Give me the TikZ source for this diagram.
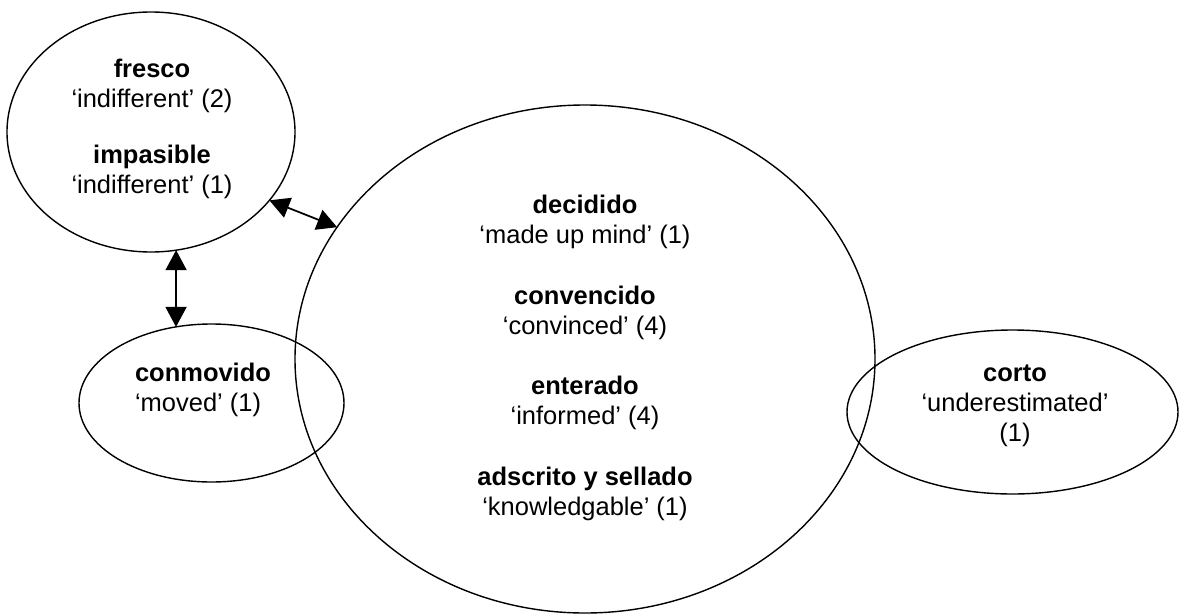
\documentclass[tikz,border=0pt]{standalone}
\usepackage{fontspec}
\setmainfont{Liberation Sans}
\usepackage{tikz}
\usetikzlibrary{arrows.meta,shapes.geometric}

\begin{document}
\begin{tikzpicture}[
  x=0.2mm, y=-0.2mm,
  every node/.style={inner sep=0pt, outer sep=0pt},
  ring/.style={draw, ellipse, line width=0.8pt},
  gloss/.style={font=\fontsize{14.5}{17}\selectfont, align=center},
  dbl/.style={{Triangle[length=4mm,width=4.2mm]}-{Triangle[length=4mm,width=4.2mm]},
              line width=1pt}]

\useasboundingbox (0,0) rectangle (1179,614);

% the four groups of adjectives
\node[ring, minimum width=5.76cm, minimum height=4.8cm]  (fresco) at (151,132)    {};
\node[ring, minimum width=11.6cm, minimum height=10.16cm] (big)   at (585,359)    {};
\node[ring, minimum width=5.3cm,  minimum height=3.16cm] (conm)   at (211.5,403)  {};
\node[ring, minimum width=6.62cm, minimum height=3.28cm] (corto)  at (1012.5,412) {};

\node[gloss] (fresco-t) at (152,129)
  {\textbf{fresco}\\ ‘indifferent’ (2)\\[14.7pt] \textbf{impasible}\\ ‘indifferent’ (1)};
\node[gloss] (big-t) at (585,358)
  {\textbf{decidido}\\ ‘made up mind’ (1)\\[17.5pt]
   \textbf{convencido}\\ ‘convinced’ (4)\\[17.5pt]
   \textbf{enterado}\\ ‘informed’ (4)\\[17.5pt]
   \textbf{adscrito y sellado}\\ ‘knowledgable’ (1)};
\node[gloss, align=left] (conm-t) at (203,390)
  {\textbf{conmovido}\\ ‘moved’ (1)};
\node[gloss] (corto-t) at (1015,406)
  {\textbf{corto}\\ ‘underestimated’\\ (1)};

% links
\draw[dbl] (fresco.-30) -- (big.152);
\draw[dbl] (fresco.-78) -- (conm.115);

\end{tikzpicture}
\end{document}
